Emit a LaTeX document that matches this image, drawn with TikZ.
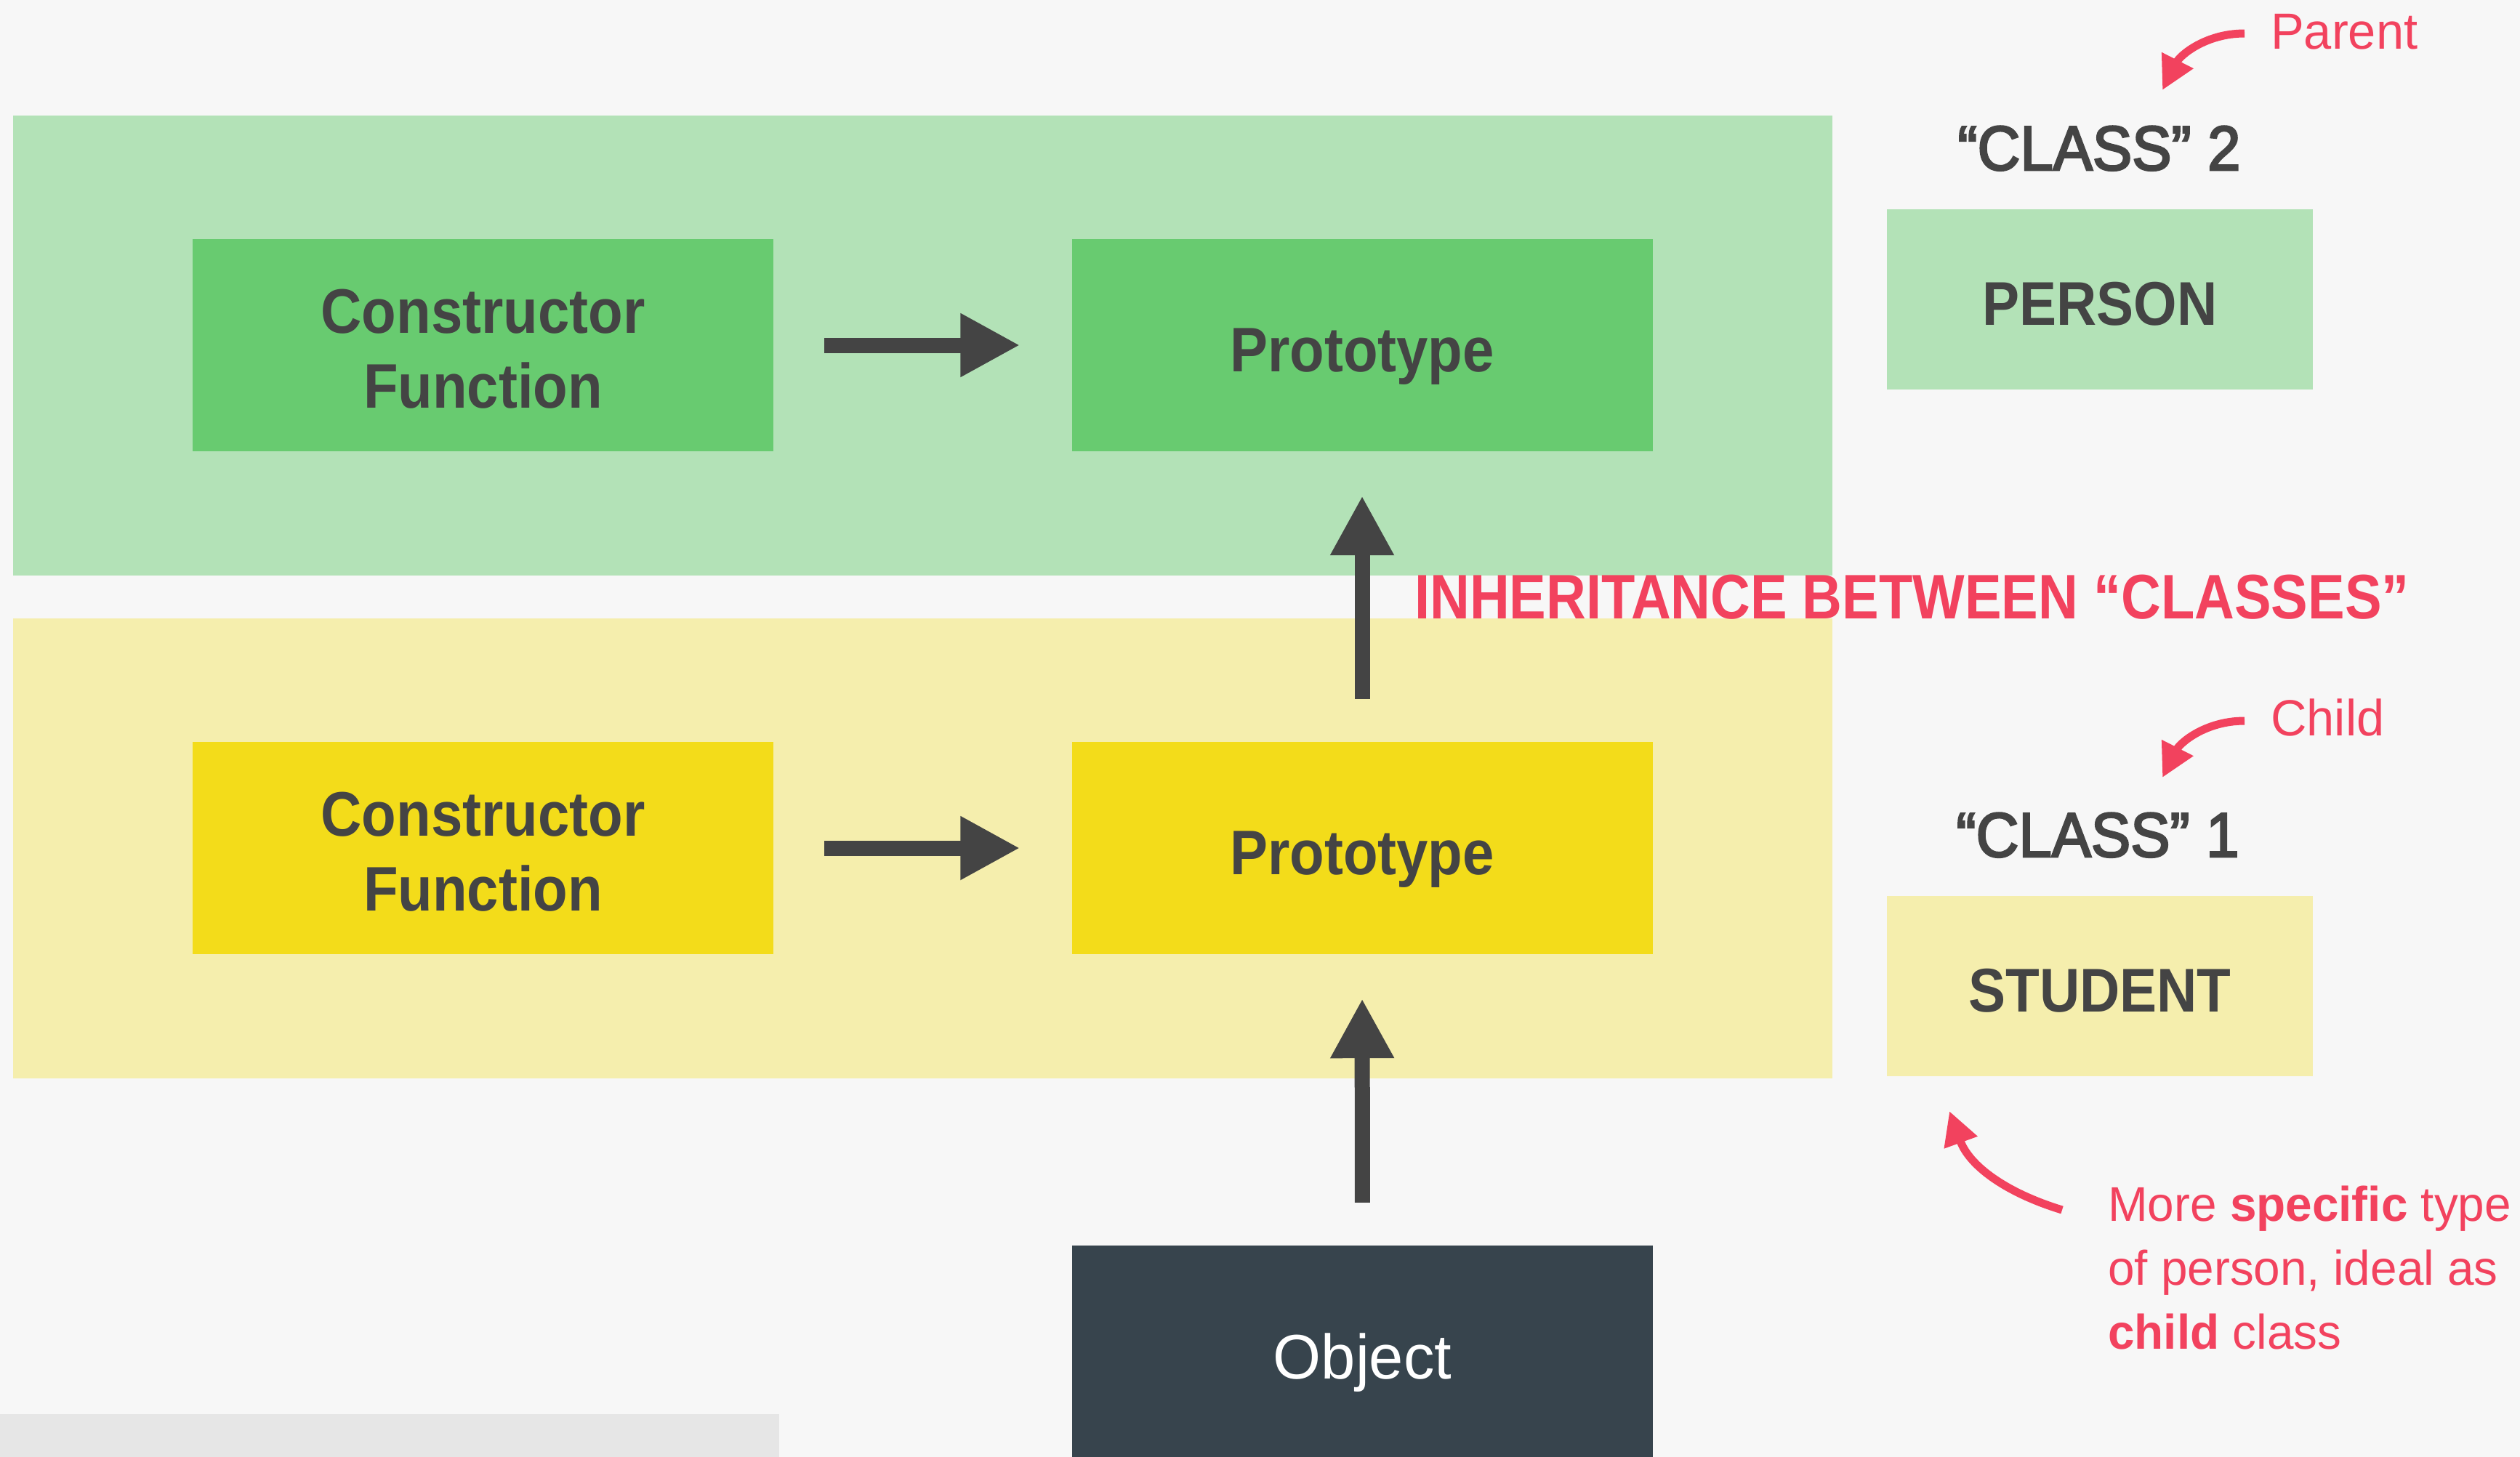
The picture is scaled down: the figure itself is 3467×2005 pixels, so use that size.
\documentclass[tikz,border=0pt]{standalone}
\usepackage{fontspec}
\setmainfont{Liberation Sans}[FakeStretch=0.9]
\newfontfamily\regfont{Liberation Sans}[FakeStretch=0.98]
\newfontfamily\medfont{Liberation Sans}[FakeStretch=0.94, FakeBold=3]
\newfontfamily\inhfont{Liberation Sans Bold}[FakeStretch=0.876]
\usetikzlibrary{arrows.meta}
\definecolor{bg}{HTML}{F7F7F7}
\definecolor{lgreen}{HTML}{B3E2B7}
\definecolor{mgreen}{HTML}{68CB70}
\definecolor{lyellow}{HTML}{F5EEAD}
\definecolor{myellow}{HTML}{F3DC1A}
\definecolor{darkbox}{HTML}{37444D}
\definecolor{ink}{HTML}{444444}
\definecolor{accent}{HTML}{F2425E}
\definecolor{graybar}{HTML}{E6E6E6}
\newcommand{\onel}[2]{\raisebox{-#1pt}[0pt][0pt]{#2}}
\newcommand{\twol}[3]{\raisebox{#1pt}[0pt][0pt]{\begin{tabular}[t]{@{}c@{}}#2\\#3\end{tabular}}}
\tikzset{
  box/.style={inner sep=0pt, minimum width=799pt, minimum height=292pt, text=ink,
    font=\fontsize{86.6}{103}\selectfont\bfseries},
  bigarrow/.style={draw=ink, line width=21pt, -{Triangle[width=82pt,length=82pt]}},
  redarrow/.style={draw=accent, line width=11pt, -{Triangle[width=46pt,length=46pt]}},
  classlbl/.style={inner sep=0pt, anchor=base, text=ink, font=\medfont\fontsize{86.6}{100}\selectfont},
  tagbox/.style={inner sep=0pt, minimum width=586pt, minimum height=248pt, text=ink,
    font=\fontsize{85}{100}\selectfont\bfseries},
  redlbl/.style={inner sep=0pt, text=accent, font=\regfont\fontsize{70}{84}\selectfont},
}
\begin{document}
\begin{tikzpicture}[x=1pt,y=-1pt]
\fill[bg] (0,0) rectangle (3467,2005);
\useasboundingbox (0,0) rectangle (3467,2005);
% bands
\fill[lgreen] (18,159) rectangle (2521,792);
\fill[lyellow] (18,851) rectangle (2521,1484);
\fill[graybar] (0,1946) rectangle (1072,2005);
% boxes
\node[box, fill=mgreen] (cf1) at (664.5,475) {\twol{17}{Constructor}{Function}};
\node[box, fill=mgreen] (p1) at (1874,475) {\onel{36}{Prototype}};
\node[box, fill=myellow] (cf2) at (664.5,1167) {\twol{17}{Constructor}{Function}};
\node[box, fill=myellow] (p2) at (1874,1167) {\onel{36}{Prototype}};
\node[box, fill=darkbox, text=white, minimum height=308pt, font=\regfont\fontsize{86.6}{100}\selectfont] (obj) at (1874.5,1868) {\onel{29}{Object}};
% arrows
\draw[bigarrow, shorten <=70pt, shorten >=71pt] (cf1.east) -- (p1.west);
\draw[bigarrow, shorten <=70pt, shorten >=71pt] (cf2.east) -- (p2.west);
\draw[bigarrow, shorten <=59pt, shorten >=61pt] (p2.north) -- (p1.south);
\draw[bigarrow, shorten <=59pt, shorten >=61pt] (obj.north) -- (p2.south);
% inheritance label
\node[inner sep=0pt, anchor=base west, text=accent, font=\inhfont\fontsize{86.6}{100}\selectfont] (inh) at (1946,851) {INHERITANCE BETWEEN “CLASSES”};
% right side
\node[classlbl] (c2) at (2888,234) {“CLASS” 2};
\node[tagbox, fill=lgreen] (person) at (2889,412) {\onel{35}{PERSON}};
\node[classlbl] (c1) at (2886,1179) {“CLASS” 1};
\node[tagbox, fill=lyellow] (student) at (2889,1357) {\onel{35}{STUDENT}};
\node[redlbl, anchor=base west] (parent) at (3124,67) {Parent};
\node[redlbl, anchor=base west] (child) at (3124,1012) {Child};
\coordinate (pt) at (3088,46);
\coordinate (ph) at (2975,124);
\coordinate (ct) at (3088,992);
\coordinate (ch) at (2975,1070);
\draw[redarrow] (pt) to[out=180,in=63] (ph);
\draw[redarrow] (ct) to[out=180,in=63] (ch);
\node[redlbl, anchor=base west, align=left, font=\regfont\fontsize{67}{88}\selectfont] (note) at (2900,1856)
  {More \textbf{specific} type\\of person, ideal as\\\textbf{child} class};
\coordinate (nt) at (2837,1665);
\coordinate (nh) at (2682,1529);
\draw[redarrow] (nt) to[out=163,in=290] (nh);
\end{tikzpicture}
\end{document}
